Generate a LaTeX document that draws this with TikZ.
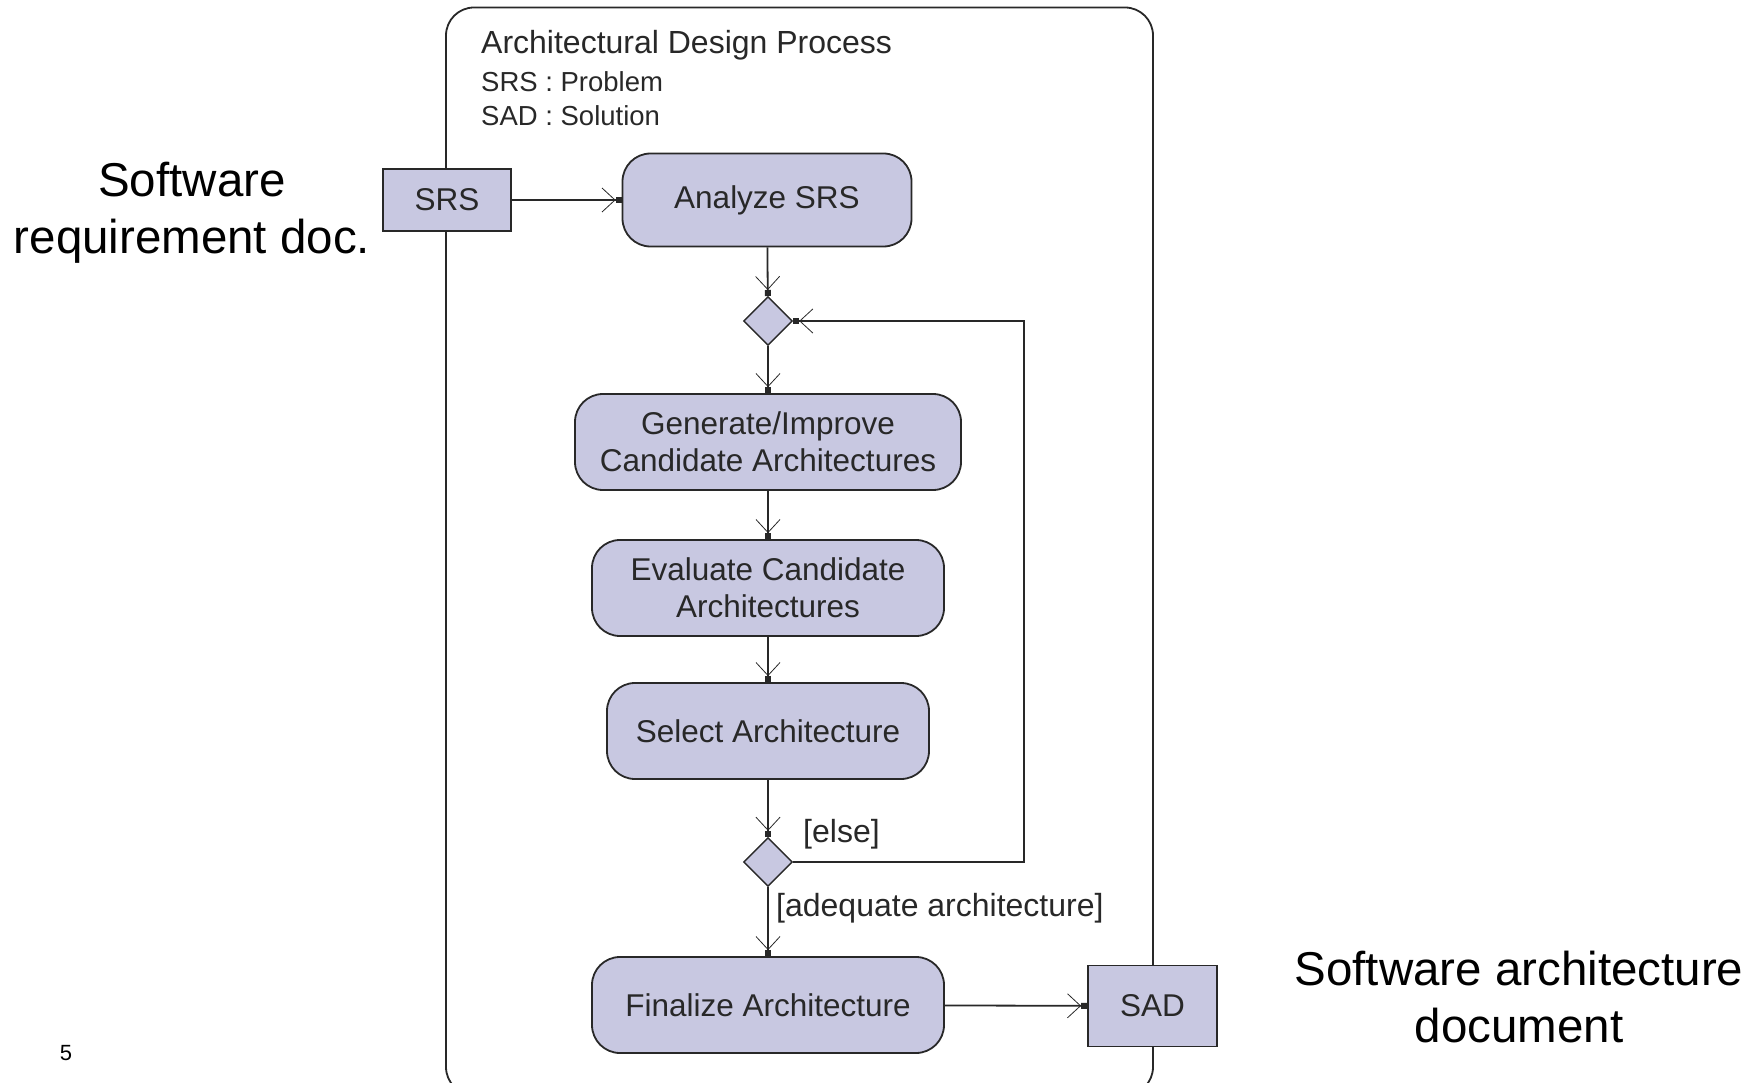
\documentclass[tikz,border=0pt]{standalone}
\usepackage{fontspec}
\setmainfont{Liberation Sans}
\usetikzlibrary{arrows.meta,shapes.geometric}
\definecolor{actfill}{RGB}{200,200,225}
\definecolor{ink}{RGB}{40,40,40}
\newcommand{\dfont}{\fontsize{31.5}{37}\selectfont}
\newcommand{\gfont}{\fontsize{32}{37}\selectfont}
\newcommand{\sfontsm}{\fontsize{27.5}{32}\selectfont}
\newcommand{\bigfont}{\fontsize{47.5}{57}\selectfont}
\tikzset{
  act/.style={draw=ink, fill=actfill, rounded corners=28pt, line width=1.8pt,
    minimum width=#1, minimum height=96pt, align=center, font=\dfont, text=ink, inner sep=0pt},
  obj/.style={draw=ink, fill=actfill, line width=1.8pt, font=\dfont, text=ink, inner sep=0pt},
  decision/.style={diamond, draw=ink, fill=actfill, line width=1.4pt,
    minimum width=49pt, minimum height=49pt, inner sep=0pt},
  flow/.style={line width=1.8pt, draw=ink,
    -{Straight Barb[length=13pt,width=24pt,line width=0.8pt] Square[length=6pt,width=6pt]}},
  guard/.style={font=\gfont, text=ink, anchor=west, inner sep=0pt},
  note/.style={font=\bigfont, align=center, inner sep=0pt},
}
\begin{document}
\begin{tikzpicture}[x=1pt,y=-1pt]
  \useasboundingbox (0,0) rectangle (1762,1083);
  \clip (0,0) rectangle (1762,1083);

  % activity frame
  \draw[ink, line width=1.8pt, rounded corners=28pt] (446,7.5) rectangle (1153,1095);
  \node[font=\gfont, text=ink, anchor=west, inner sep=0pt] (title) at (481,45) {Architectural Design Process};
  \node[font=\sfontsm, text=ink, anchor=west, inner sep=0pt] (par1) at (481,82) {SRS : Problem};
  \node[font=\sfontsm, text=ink, anchor=west, inner sep=0pt] (par2) at (481,116) {SAD : Solution};

  % object pins
  \node[obj, minimum width=128pt, minimum height=62pt] (srs) at (447,200) {SRS};
  \node[obj, minimum width=129pt, minimum height=81pt] (sad) at (1152.5,1006) {SAD};

  % actions and decisions
  \node[act=289pt, minimum height=93pt] (analyze) at (767,200) {Analyze SRS};
  \node[decision] (d1) at (768,321) {};
  \node[act=386pt] (gen) at (768,442) {Generate/Improve\\Candidate Architectures};
  \node[act=352pt] (eval) at (768,588) {Evaluate Candidate\\Architectures};
  \node[act=322pt] (sel) at (768,731) {Select Architecture};
  \node[decision] (d2) at (768,862) {};
  \node[act=352pt] (fin) at (768,1005) {Finalize Architecture};
  \coordinate (loop) at (1024,321);

  % control flow
  \draw[flow] (srs) -- (analyze);
  \draw[flow] (analyze) -- (d1);
  \draw[flow] (d1) -- (gen);
  \draw[flow] (gen) -- (eval);
  \draw[flow] (eval) -- (sel);
  \draw[flow] (sel) -- (d2);
  \draw[flow] (d2) -- (fin);
  \draw[flow] (d2.east) -| (loop) -- (d1.east);
  \draw[flow] (fin) -- (sad);

  % guards
  \node[guard] (gelse) at (803,834) {[else]};
  \node[guard] (gok) at (776,908) {[adequate architecture]};

  % side notes
  \node[note] (srsnote) at (192,213) {Software\\requirement doc.};
  \node[note] (sadnote) at (1519,997) {Software architecture\\document};
  \node[font=\fontsize{22}{26}\selectfont, inner sep=0pt] (pageno) at (66,1053) {5};
\end{tikzpicture}
\end{document}
